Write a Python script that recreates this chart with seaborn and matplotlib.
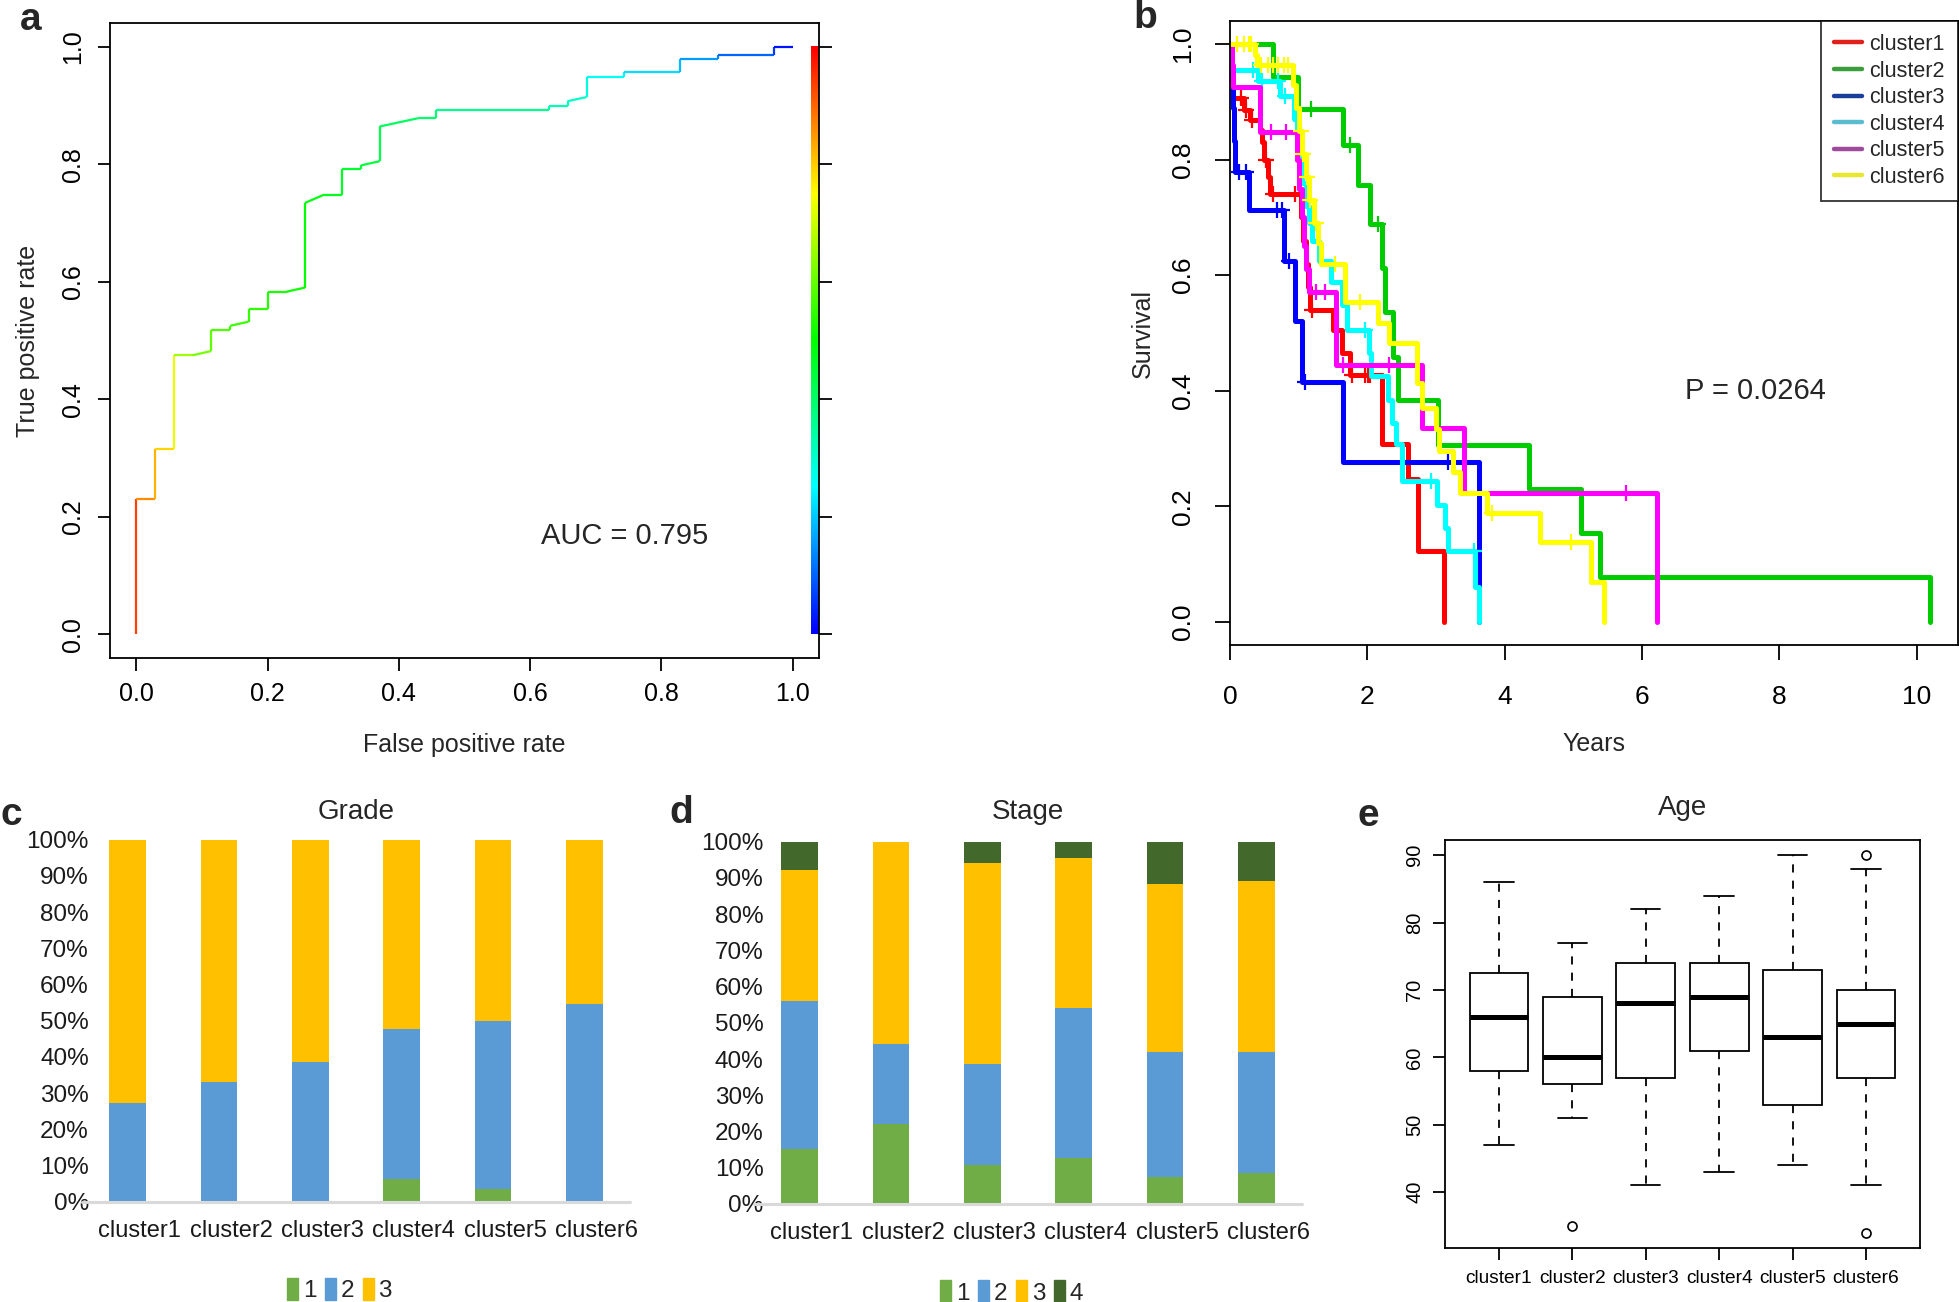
import numpy as np
import matplotlib
matplotlib.use("Agg")
import matplotlib.pyplot as plt
import matplotlib.transforms as mtransforms
import seaborn as sns
from matplotlib.colors import ListedColormap, hsv_to_rgb
from matplotlib.lines import Line2D
from matplotlib.patches import Patch

# ---- panel a: ROC curve (colour = cutoff) ----
roc_fpr = [0, 0, 0.029, 0.029, 0.057, 0.057, 0.086, 0.114, 0.114, 0.143, 0.143, 0.171,
           0.171, 0.2, 0.2, 0.229, 0.257, 0.257, 0.286, 0.314, 0.314, 0.343, 0.343, 0.371,
           0.371, 0.429, 0.457, 0.457, 0.629, 0.629, 0.657, 0.657, 0.686, 0.686, 0.743,
           0.743, 0.829, 0.829, 0.886, 0.886, 0.971, 0.971, 1.0]
roc_tpr = [0, 0.23, 0.23, 0.315, 0.315, 0.475, 0.475, 0.482, 0.518, 0.518, 0.525, 0.532,
           0.554, 0.554, 0.583, 0.583, 0.59, 0.734, 0.748, 0.748, 0.792, 0.792, 0.798, 0.805,
           0.864, 0.878, 0.878, 0.892, 0.892, 0.899, 0.899, 0.907, 0.914, 0.949, 0.949,
           0.956, 0.956, 0.978, 0.978, 0.985, 0.985, 1.0, 1.0]
roc_cutoff = [1.0, 0.87, 0.85, 0.8, 0.78, 0.68, 0.63, 0.6, 0.58, 0.57, 0.56, 0.55,
              0.55, 0.54, 0.53, 0.52, 0.51, 0.49, 0.48, 0.47, 0.46, 0.45, 0.45, 0.44,
              0.42, 0.4, 0.39, 0.38, 0.34, 0.33, 0.32, 0.31, 0.3, 0.27, 0.25,
              0.24, 0.2, 0.17, 0.14, 0.13, 0.07, 0.04, 0.0]
roc_auc = 0.795

# ---- panel b: Kaplan-Meier curves ----
clusters = ["cluster1", "cluster2", "cluster3", "cluster4", "cluster5", "cluster6"]
c1_time = [0, 0.01, 0.02, 0.04, 0.2, 0.29, 0.44, 0.47, 0.5, 0.55, 0.58, 1.04, 1.07, 1.1,
           1.14, 1.17, 1.505, 1.63, 1.75, 2.21, 2.59, 2.74, 3.12]
c1_surv = [1.0, 0.969, 0.938, 0.906, 0.886, 0.868, 0.851, 0.83, 0.8, 0.77, 0.741, 0.7,
           0.66, 0.62, 0.58, 0.54, 0.505, 0.465, 0.427, 0.308, 0.247, 0.122, 0.0]
c1_censor = [0.16, 0.23, 0.32, 0.52, 0.62, 0.95, 1.2, 1.77, 1.96, 2.01, 2.04]

c2_time = [0, 0.63, 0.99, 1.64, 1.87, 2.04, 2.21, 2.26, 2.38, 2.45, 3.03, 4.36, 5.11,
           5.39, 10.19]
c2_surv = [1.0, 0.943, 0.888, 0.825, 0.757, 0.688, 0.612, 0.537, 0.459, 0.384, 0.307,
           0.23, 0.153, 0.077, 0.0]
c2_censor = [1.18, 1.75, 2.16]

c3_time = [0, 0.02, 0.04, 0.06, 0.08, 0.28, 0.78, 0.95, 1.05, 1.64, 3.63]
c3_surv = [1.0, 0.944, 0.889, 0.833, 0.778, 0.713, 0.625, 0.521, 0.416, 0.277, 0.0]
c3_censor = [0.13, 0.24, 0.68, 0.75, 0.86, 1.09, 3.17]

c4_time = [0, 0.03, 0.41, 0.73, 0.93, 0.97, 1.01, 1.05, 1.1, 1.15, 1.2, 1.29, 1.47,
           1.63, 1.7, 2.02, 2.06, 2.3, 2.36, 2.42, 2.5, 3.01, 3.13, 3.18, 3.57, 3.63]
c4_surv = [1.0, 0.956, 0.937, 0.911, 0.87, 0.83, 0.8, 0.76, 0.72, 0.69, 0.66, 0.625,
           0.589, 0.548, 0.505, 0.465, 0.425, 0.384, 0.345, 0.308, 0.243, 0.202, 0.162,
           0.122, 0.061, 0.0]
c4_censor = [0.34, 0.46, 0.7, 0.8, 1.96, 2.93, 3.55]

c5_time = [0, 0.03, 0.05, 0.44, 0.97, 1.01, 1.05, 1.08, 1.11, 1.15, 1.55, 2.79, 3.4, 6.22]
c5_surv = [1.0, 0.963, 0.926, 0.848, 0.8, 0.75, 0.7, 0.65, 0.61, 0.571, 0.4445, 0.335,
           0.2226, 0.0]
c5_censor = [0.59, 0.81, 1.25, 1.39, 1.64, 2.31, 5.76]

c6_time = [0, 0.36, 0.4, 0.92, 0.96, 1.0, 1.05, 1.1, 1.15, 1.22, 1.28, 1.33, 1.68, 2.16,
           2.31, 2.72, 2.8, 3.0, 3.05, 3.25, 3.35, 3.74, 4.52, 5.25, 5.44]
c6_surv = [1.0, 0.981, 0.963, 0.93, 0.89, 0.85, 0.81, 0.77, 0.73, 0.69, 0.655, 0.62,
           0.554, 0.518, 0.482, 0.413, 0.37, 0.333, 0.296, 0.26, 0.2226, 0.188, 0.139,
           0.0697, 0.0]
c6_censor = [0.1, 0.2, 0.27, 0.31, 0.45, 0.55, 0.62, 0.7, 0.78, 0.85, 1.03, 1.07, 1.12,
             1.17, 1.25, 1.53, 1.89, 3.82, 4.97]
km_pvalue = "P = 0.0264"

# ---- panels c/d: stacked percentages ----
grade1 = [0, 0, 0, 6.2, 3.4, 0]
grade2 = [27.2, 33.0, 38.5, 41.4, 46.5, 54.7]
grade3 = [72.8, 67.0, 61.5, 52.4, 50.1, 45.3]
stage1 = [15.1, 22.1, 10.8, 12.8, 7.5, 8.5]
stage2 = [41.0, 22.1, 27.8, 41.3, 34.5, 33.4]
stage3 = [36.0, 55.8, 55.6, 41.3, 46.2, 47.3]
stage4 = [7.9, 0.0, 5.8, 4.6, 11.8, 10.8]

# ---- panel e: age box statistics ----
age_whislo = [47, 51, 41, 43, 44, 41]
age_q1 = [58, 56, 57, 61, 53, 57]
age_med = [66, 60, 68, 69, 63, 65]
age_q3 = [72.5, 69, 74, 74, 73, 70]
age_whishi = [86, 77, 82, 84, 90, 88]
age_fliers = [[], [35], [], [], [], [90, 34]]

sns.set_style("ticks")
plt.rcParams["font.family"] = ["Liberation Sans", "DejaVu Sans"]

W, H = 1959, 1302
fig = plt.figure(figsize=(W / 100, H / 100), dpi=100)


def add_ax(left, top, right, bottom):
    return fig.add_axes([left / W, 1 - bottom / H, (right - left) / W, (bottom - top) / H])


def r_style(ax, tick_len, xpad, ypad, size):
    for s in ax.spines.values():
        s.set_color("black")
        s.set_linewidth(1.3)
    ax.tick_params(length=tick_len, width=1.3, color="black", labelsize=size,
                   labelcolor="black")
    ax.tick_params(axis="x", pad=xpad)
    ax.tick_params(axis="y", pad=ypad)
    for lbl in ax.get_yticklabels():
        lbl.set_rotation(90)
        lbl.set_va("center")


# ---------------- a ----------------
ax = add_ax(110, 23, 819, 658)
rainbow = ListedColormap(hsv_to_rgb(np.column_stack(
    [np.linspace(0.667, 0, 256), np.ones(256), np.ones(256)])))
for i in range(len(roc_fpr) - 1):
    col = rainbow((roc_cutoff[i] + roc_cutoff[i + 1]) / 2)
    ax.plot(roc_fpr[i:i + 2], roc_tpr[i:i + 2], color=col, lw=1.6, solid_capstyle="butt")
ax.imshow(np.linspace(0, 1, 256).reshape(-1, 1), extent=(1.028, 1.041, 0, 1),
          origin="lower", aspect="auto", cmap=rainbow)
ax.set_xlim(-0.04, 1.04)
ax.set_ylim(-0.04, 1.04)
ticks = [0, 0.2, 0.4, 0.6, 0.8, 1.0]
ax.set_xticks(ticks, [f"{t:.1f}" for t in ticks])
ax.set_yticks(ticks, [f"{t:.1f}" for t in ticks])
ax.tick_params(axis="y", right=True, labelright=False)
r_style(ax, 9, 8.5, 9, 18)
ax.set_xlabel("False positive rate", fontsize=18, labelpad=19)
ax.set_ylabel("True positive rate", fontsize=18, labelpad=15)
ax.text(0.744, 0.167, f"AUC = {roc_auc}", fontsize=21, ha="center", va="center")

# ---------------- b ----------------
ax = add_ax(1230, 21, 1958, 645)
line_cols = ["#ff0000", "#00cc00", "#0000ff", "#00ffff", "#ff00ff", "#ffff00"]
legend_cols = ["#e0201b", "#3a9e3a", "#1a3f9a", "#5bbcd0", "#a04a9e", "#e8e830"]
km_time = [c1_time, c2_time, c3_time, c4_time, c5_time, c6_time]
km_surv = [c1_surv, c2_surv, c3_surv, c4_surv, c5_surv, c6_surv]
km_cens = [c1_censor, c2_censor, c3_censor, c4_censor, c5_censor, c6_censor]
for t, s, cens, col in zip(km_time, km_surv, km_cens, line_cols):
    sns.lineplot(x=t, y=s, drawstyle="steps-post", estimator=None, sort=False,
                 color=col, lw=3.6, ax=ax)
    idx = np.searchsorted(t, cens, side="right") - 1
    ax.plot(cens, np.asarray(s)[idx], ls="none", marker="+", ms=12, mew=1.6, color=col)
ax.set_xlim(0, 10.6)
ax.set_ylim(-0.04, 1.04)
ax.set_xticks([0, 2, 4, 6, 8, 10])
ax.set_yticks(ticks, [f"{t:.1f}" for t in ticks])
r_style(ax, 11, 17.5, 14, 19)
ax.set_xlabel("Years", fontsize=18, labelpad=17)
ax.set_ylabel("Survival", fontsize=18, labelpad=12)
ax.text(7.65, 0.399, km_pvalue, fontsize=21, ha="center", va="center")
handles = [Line2D([], [], color=c, lw=3.2) for c in legend_cols]
leg = ax.legend(handles, clusters, loc="upper right", borderaxespad=0, fontsize=15.5,
                frameon=True, fancybox=False, handlelength=1.3, handletextpad=0.35,
                labelspacing=0.26, borderpad=0.6)
leg.get_frame().set_edgecolor("black")
leg.get_frame().set_linewidth(1.3)

# ---------------- c / d ----------------
xl_green, xl_blue, xl_orange, xl_dark = "#70ad47", "#5b9bd5", "#ffc000", "#43682b"


def stacked(ax, parts, colors, title, title_gap, ypad):
    tops = np.cumsum(parts, axis=0)
    for top, col in reversed(list(zip(tops, colors))):
        sns.barplot(x=clusters, y=top, color=col, width=0.4, saturation=1,
                    linewidth=0, ax=ax)
    ax.axhline(0, color="#d9d9d9", lw=2.2, zorder=5, clip_on=False)
    ax.set_xlim(-0.5, 5.5)
    ax.set_ylim(0, 100)
    yt = list(range(0, 101, 10))
    ax.set_yticks(yt, [f"{v}%" for v in yt])
    sns.despine(ax=ax, left=True, bottom=True)
    ax.tick_params(length=0, labelsize=17.5, labelcolor="#1a1a1a")
    ax.tick_params(axis="x", pad=13, labelsize=17)
    ax.tick_params(axis="y", pad=ypad)
    # Excel puts the category labels a little right of the bar centres
    shift = mtransforms.ScaledTranslation(0.12, 0, fig.dpi_scale_trans)
    for lbl in ax.get_xticklabels():
        lbl.set_transform(lbl.get_transform() + shift)
    ax.set_xlabel("")
    ax.set_ylabel("")
    ax.text(0.5, 1 + title_gap, title, transform=ax.transAxes, ha="center",
            va="center", fontsize=20)
    hs = [Patch(color=c) for c in colors]
    ax.legend(hs, [str(i + 1) for i in range(len(colors))], loc="center",
              bbox_to_anchor=(0.47, -0.244), ncol=len(colors), frameon=False,
              fontsize=17.5, handlelength=0.45, handleheight=1.0, handletextpad=0.2,
              columnspacing=0.35)


ax = add_ax(82, 839.6, 630, 1201.7)
stacked(ax, [grade1, grade2, grade3], [xl_green, xl_blue, xl_orange], "Grade",
        28 / 362, -5)
ax = add_ax(754, 841.7, 1302, 1204)
stacked(ax, [stage1, stage2, stage3, stage4], [xl_green, xl_blue, xl_orange, xl_dark],
        "Stage", 30 / 362, -7)

# ---------------- e ----------------
ax = add_ax(1444.6, 840, 1920.3, 1247.7)
stats = [dict(whislo=a, q1=b, med=m, q3=c, whishi=d, fliers=f)
         for a, b, m, c, d, f in zip(age_whislo, age_q1, age_med, age_q3, age_whishi, age_fliers)]
ax.bxp(stats, positions=range(1, 7), widths=0.8, capwidths=0.4, patch_artist=True,
       boxprops=dict(facecolor="white", edgecolor="black", lw=1.3),
       medianprops=dict(color="black", lw=3.6, solid_capstyle="butt"),
       whiskerprops=dict(color="black", lw=1.3, ls=(0, (4.5, 4.5))),
       capprops=dict(color="black", lw=1.3),
       flierprops=dict(marker="o", mfc="none", mec="black", ms=6.5, mew=1.2))
ax.set_xlim(0.26, 6.74)
ax.set_ylim(31.76, 92.24)
ax.set_xticks(range(1, 7), clusters)
ax.set_yticks([40, 50, 60, 70, 80, 90])
r_style(ax, 8.5, 7.5, 6, 14.5)
ax.tick_params(axis="x", labelsize=13.8)
ax.text(0.5, 1 + 32 / 407.7, "Age", transform=ax.transAxes, ha="center", va="center",
        fontsize=20)

# ---- panel letters ----
for letter, x, y in [("a", 31, 20), ("b", 1145, 18), ("c", 11, 815), ("d", 681, 813),
                     ("e", 1368, 816)]:
    fig.text(x / W, 1 - y / H, letter, fontsize=28, fontweight="bold", ha="center",
             va="center")

fig.savefig("out.png", dpi=100)
